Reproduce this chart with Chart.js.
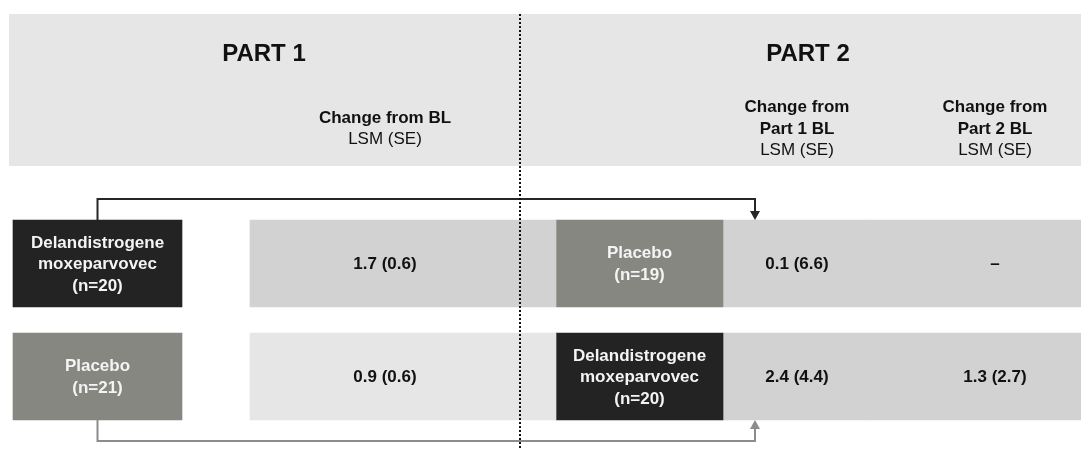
<!DOCTYPE html>
<html lang="en">
<head>
    <meta charset="UTF-8">
    <title>Part 1 / Part 2 change from baseline</title>
    <style>
        body { margin: 0; background: #fff; }
        #wrap { width: 1081px; height: 450px; position: relative; }
    </style>
</head>
<body>
    <div id="wrap"><canvas id="myChart"></canvas></div>

    <script src="https://cdn.jsdelivr.net/npm/chart.js@4/dist/chart.umd.min.js"></script>
    <script type="text/javascript">
        // Datos
        const partTitles = ['PART 1', 'PART 2'];
        const part1Header = ['Change from BL', 'LSM (SE)'];
        const part2Headers = [
            ['Change from', 'Part 1 BL', 'LSM (SE)'],
            ['Change from', 'Part 2 BL', 'LSM (SE)']
        ];
        const part1Arms = ['Delandistrogene\nmoxeparvovec\n(n=20)', 'Placebo\n(n=21)'];
        const part2Arms = ['Placebo\n(n=19)', 'Delandistrogene\nmoxeparvovec\n(n=20)'];
        const part1Lsm = [1.7, 0.9];
        const part1Se = [0.6, 0.6];
        const fromPart1Lsm = [0.1, 2.4];
        const fromPart1Se = [6.6, 4.4];
        const fromPart2Lsm = [null, 1.3];
        const fromPart2Se = [null, 2.7];

        // Maquetación (en píxeles del eje x, 0..1081)
        const L = {
            header: { x0: 9, y0: 14, y1: 166 },
            divider: 520,
            armBox: [13, 182],
            part1Col: [250, 520],
            bridge: [520, 556],
            part2Box: [556, 723],
            col2: [723, 871],
            col3: [871, 1081],
            col3Text: 995,
            arrowX: 755,
            connectorGap: 21,
            titleX: [264, 808],
            lineGap: 21.5
        };
        const FONT = '"Liberation Sans", Arial, sans-serif';
        const DARK = '#232323', GREY = '#878782';
        const BAND = '#d2d2d2', LIGHT = '#e6e6e6';

        const fmt = (v, se) => v == null ? '–' : v.toFixed(1) + ' (' + se.toFixed(1) + ')';
        const armColor = a => a.startsWith('Placebo') ? GREY : DARK;
        const span = r => part1Arms.map(() => r);

        const datasets = [
            { id: 'arm1', data: span(L.armBox), backgroundColor: part1Arms.map(armColor),
              cellText: part1Arms, textColor: '#f4f4f4' },
            { id: 'col1', data: span(L.part1Col), backgroundColor: part1Arms.map(a => a.startsWith('Placebo') ? LIGHT : BAND),
              cellText: part1Lsm.map((v, i) => fmt(v, part1Se[i])), textColor: '#111' },
            { id: 'bridge', data: span(L.bridge), backgroundColor: part1Arms.map(a => a.startsWith('Placebo') ? LIGHT : BAND) },
            { id: 'arm2', data: span(L.part2Box), backgroundColor: part2Arms.map(armColor),
              cellText: part2Arms, textColor: '#f4f4f4' },
            { id: 'col2', data: span(L.col2), backgroundColor: BAND,
              cellText: fromPart1Lsm.map((v, i) => fmt(v, fromPart1Se[i])), textColor: '#111' },
            { id: 'col3', data: span(L.col3), backgroundColor: BAND, textX: L.col3Text,
              cellText: fromPart2Lsm.map((v, i) => fmt(v, fromPart2Se[i])), textColor: '#111' }
        ].map(d => Object.assign({ grouped: false, borderWidth: 0, borderSkipped: false }, d));

        function drawLines(ctx, lines, x, yc, color, boldAll) {
            ctx.fillStyle = color;
            ctx.textAlign = 'center';
            ctx.textBaseline = 'middle';
            const y0 = yc - (lines.length - 1) * L.lineGap / 2;
            lines.forEach((t, k) => {
                const bold = boldAll || k < lines.length - 1;
                ctx.font = (bold ? 'bold ' : '') + '17px ' + FONT;
                ctx.fillText(t, x, y0 + k * L.lineGap + 1);
            });
        }

        function arrow(ctx, x, y, dir, color) {
            ctx.fillStyle = color;
            ctx.beginPath();
            ctx.moveTo(x, y);
            ctx.lineTo(x - 5, y - 9 * dir);
            ctx.lineTo(x + 5, y - 9 * dir);
            ctx.closePath();
            ctx.fill();
        }

        const tablePlugin = {
            id: 'table',
            beforeDatasetsDraw(chart) {
                const ctx = chart.ctx, xs = chart.scales.x;
                ctx.save();
                ctx.fillStyle = LIGHT;
                ctx.fillRect(xs.getPixelForValue(L.header.x0), L.header.y0,
                    chart.width - xs.getPixelForValue(L.header.x0), L.header.y1 - L.header.y0);
                ctx.fillStyle = '#111';
                ctx.textAlign = 'center';
                ctx.textBaseline = 'middle';
                ctx.font = 'bold 24px ' + FONT;
                partTitles.forEach((t, i) => ctx.fillText(t, xs.getPixelForValue(L.titleX[i]), 54));
                const hy = (L.header.y0 + L.header.y1) / 2 + 38;
                drawLines(ctx, part1Header, xs.getPixelForValue((L.part1Col[0] + L.part1Col[1]) / 2), hy, '#111');
                drawLines(ctx, part2Headers[0], xs.getPixelForValue((L.col2[0] + L.col2[1]) / 2), hy, '#111');
                drawLines(ctx, part2Headers[1], xs.getPixelForValue(L.col3Text), hy, '#111');
                ctx.restore();
            },
            afterDatasetsDraw(chart) {
                const ctx = chart.ctx, xs = chart.scales.x;
                ctx.save();
                chart.data.datasets.forEach((ds, di) => {
                    if (!ds.cellText) return;
                    chart.getDatasetMeta(di).data.forEach((el, i) => {
                        const x = ds.textX != null ? xs.getPixelForValue(ds.textX) : (el.x + el.base) / 2;
                        drawLines(ctx, ds.cellText[i].split('\n'), x, el.y, ds.textColor, true);
                    });
                });

                // Conectores entre parte 1 y parte 2
                const a1 = chart.getDatasetMeta(0).data;
                const a2 = chart.getDatasetMeta(3).data;
                const ax = xs.getPixelForValue(L.arrowX);
                const links = [
                    { from: a1[0], to: a2[0], side: -1, color: '#262626' },
                    { from: a1[1], to: a2[1], side: 1, color: '#8c8c8a' }
                ];
                links.forEach(k => {
                    const fx = (k.from.x + k.from.base) / 2;
                    const fy = k.from.y + k.side * k.from.height / 2;
                    const ty = k.to.y + k.side * k.to.height / 2;
                    const ry = fy + k.side * L.connectorGap;
                    ctx.strokeStyle = k.color;
                    ctx.lineWidth = 2;
                    ctx.beginPath();
                    ctx.moveTo(fx, fy);
                    ctx.lineTo(fx, ry);
                    ctx.lineTo(ax, ry);
                    ctx.lineTo(ax, ty + k.side * 8);
                    ctx.stroke();
                    arrow(ctx, ax, ty, -k.side, k.color);
                });

                // Línea punteada divisoria
                const dx = xs.getPixelForValue(L.divider);
                ctx.strokeStyle = '#111';
                ctx.lineWidth = 2;
                ctx.setLineDash([2, 2]);
                ctx.beginPath();
                ctx.moveTo(dx, L.header.y0);
                ctx.lineTo(dx, chart.height);
                ctx.stroke();
                ctx.restore();
            }
        };

        const ctx = document.getElementById('myChart');
        const myChart = new Chart(ctx, {
            type: 'bar',
            data: { labels: ['Row 1', 'Row 2'], datasets: datasets },
            options: {
                indexAxis: 'y',
                responsive: true,
                maintainAspectRatio: false,
                animation: false,
                barThickness: 87,
                layout: { padding: { top: 207, bottom: 17, left: 0, right: 0 } },
                scales: {
                    x: { type: 'linear', min: 0, max: 1081, display: false },
                    y: { type: 'category', offset: true, display: false }
                },
                plugins: { legend: { display: false }, tooltip: { enabled: false } }
            },
            plugins: [tablePlugin]
        });
    </script>
</body>
</html>
